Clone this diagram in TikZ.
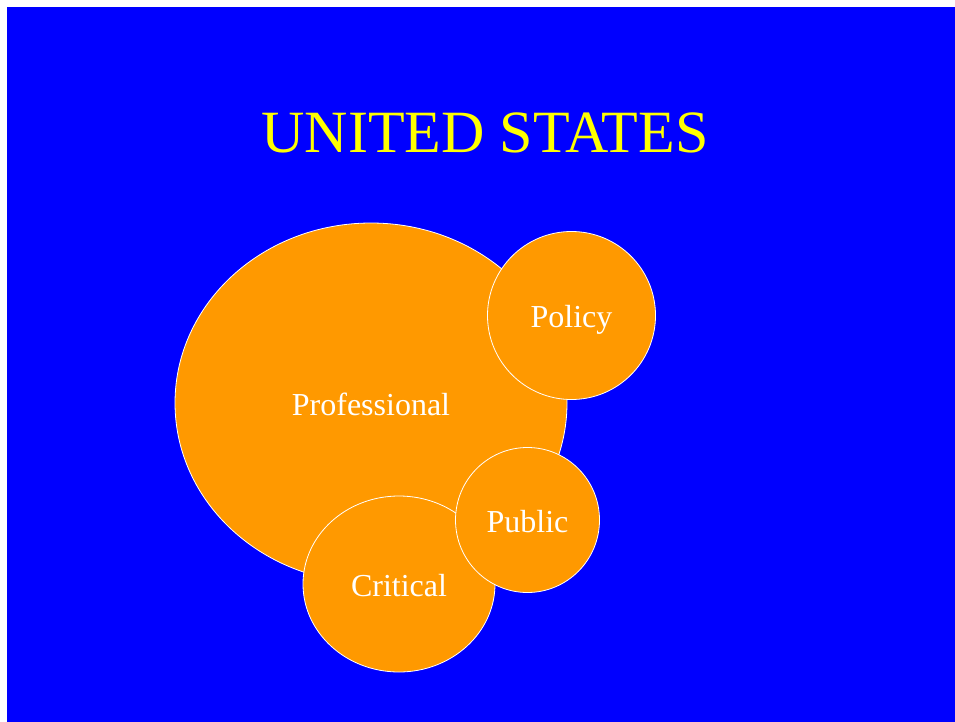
\documentclass[tikz,border=0pt]{standalone}
\usepackage{fontspec}
\setmainfont{Liberation Serif}
\usetikzlibrary{shapes.geometric, positioning}
\definecolor{slideblue}{HTML}{0000FF}
\definecolor{bubble}{HTML}{FF9900}
\definecolor{titleyellow}{HTML}{FFFF00}

\begin{document}
\begin{tikzpicture}[x=1pt, y=-1pt,
    blob/.style={ellipse, fill=bubble, draw=white, line width=0.8pt, inner sep=0pt,
        text=white, font=\fontsize{32}{38}\selectfont, text height=24pt, text depth=0pt}]
% Slide background
\useasboundingbox (0,0) rectangle (955,722);
\fill[white] (0,0) rectangle (955,722);
\fill[slideblue] (7,7) rectangle (955,722);
% Title
\node[anchor=base, text=titleyellow, font=\fontsize{60}{72}\selectfont] (title) at (485,153) {UNITED STATES};
% Bubbles
\node[blob, minimum width=392pt, minimum height=360pt] (prof) at (371,403) {Professional};
\node[blob, minimum width=168pt, minimum height=168pt] (policy) at (571.5,315.5) {Policy};
\node[blob, minimum width=192pt, minimum height=176pt] (crit) at (399,584) {Critical};
\node[blob, minimum width=144pt, minimum height=145pt] (public) at (527.5,520) {Public};
\end{tikzpicture}
\end{document}
